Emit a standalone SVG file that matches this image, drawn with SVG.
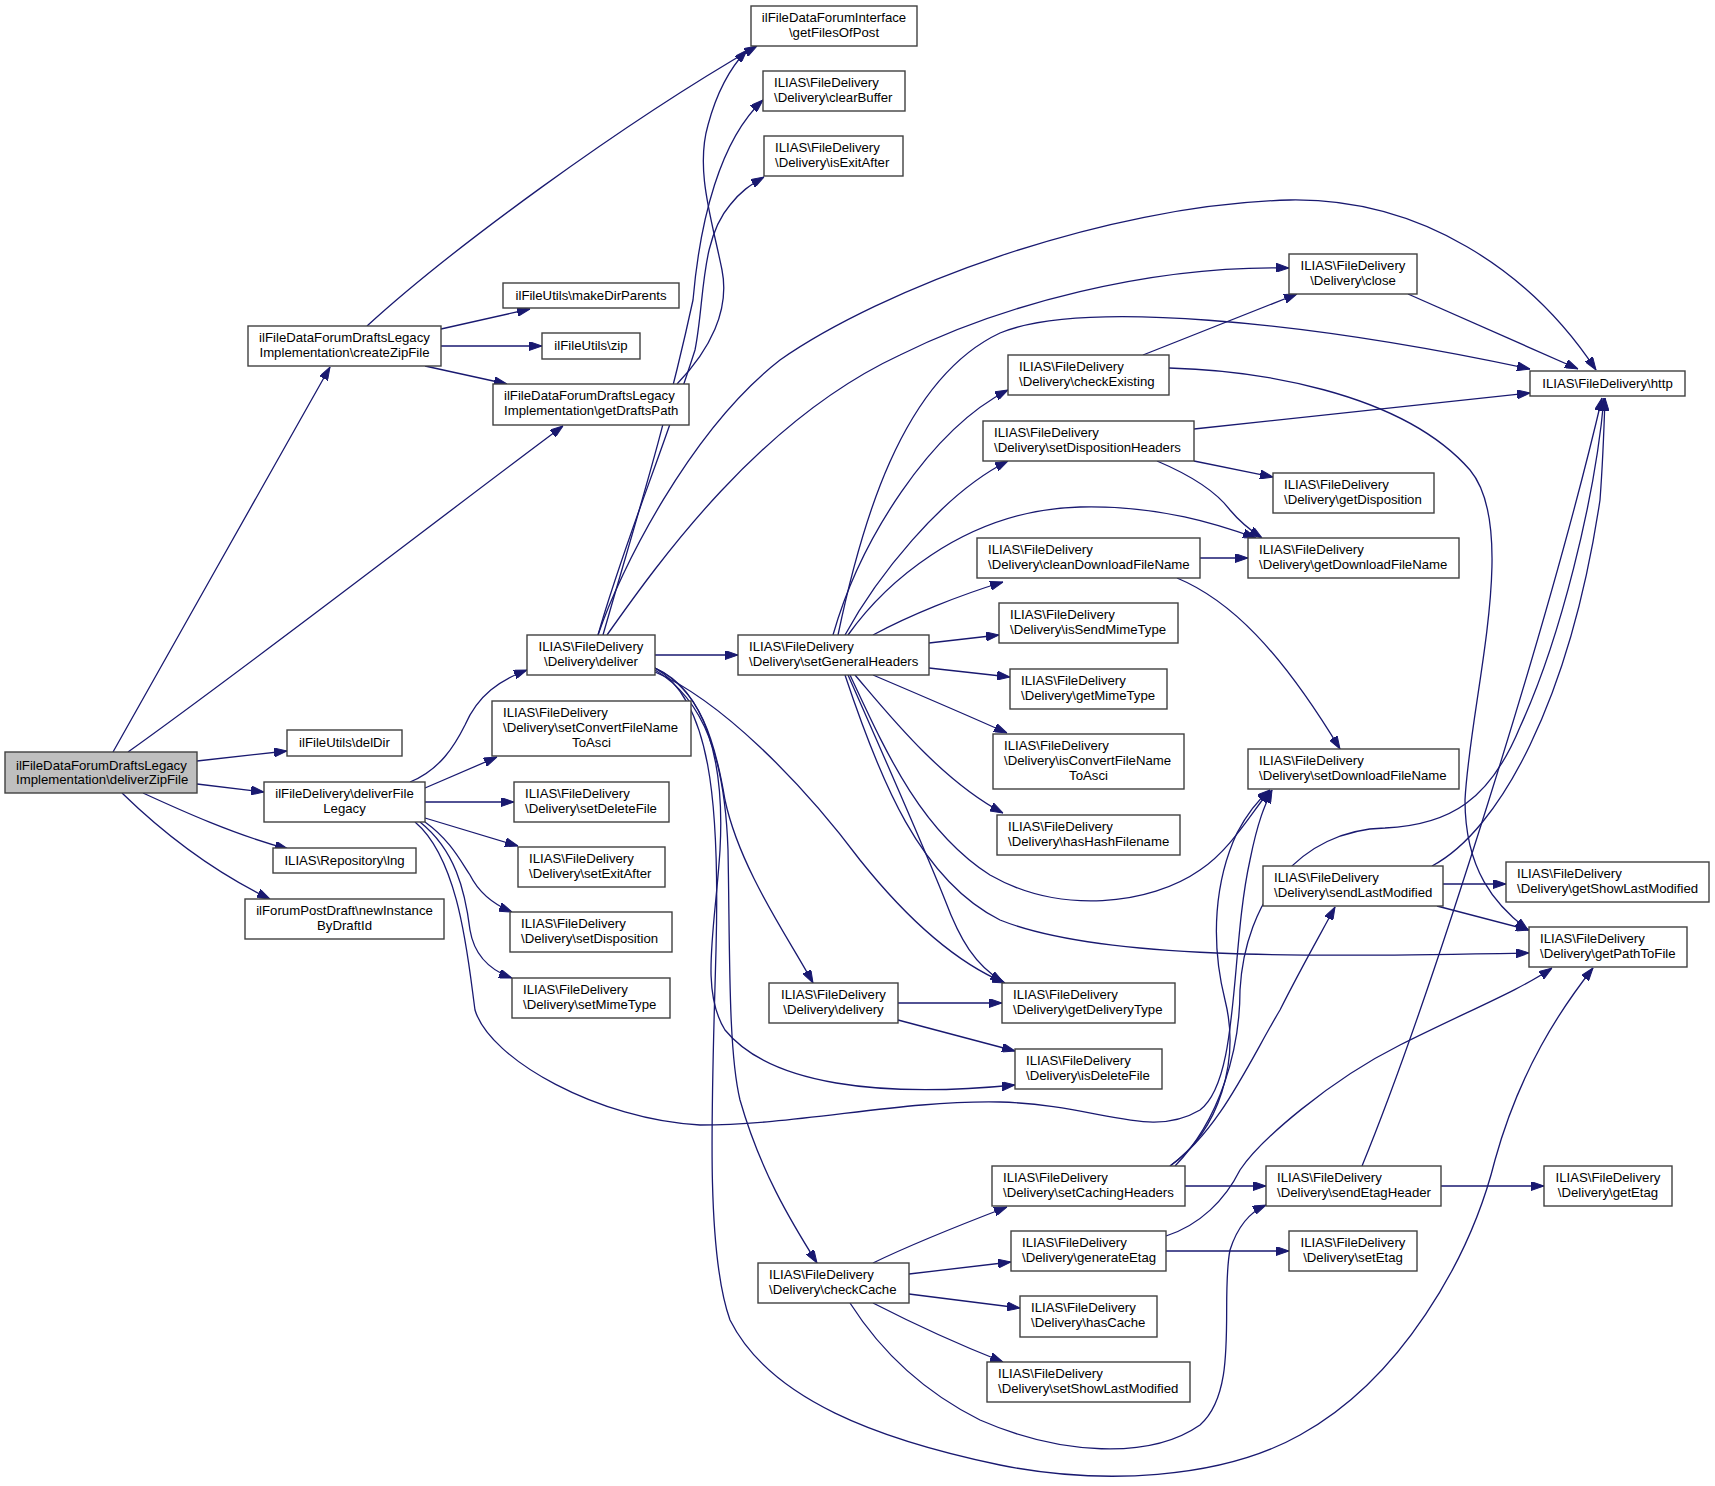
<svg xmlns="http://www.w3.org/2000/svg" width="1715" height="1486" viewBox="0 0 1715 1486">
<defs>
<marker id="arr" viewBox="0 0 13 9" refX="13" refY="4.5" markerWidth="13" markerHeight="9" markerUnits="userSpaceOnUse" orient="auto">
<path d="M0,0 L13,4.5 L0,9 z" fill="#191970" stroke="#191970" stroke-width="1"/>
</marker>
</defs>
<style>
.node rect{fill:#ffffff;stroke:#404040;stroke-width:1.4}
.node.root rect{fill:#bfbfbf}
.node text{font-family:"Liberation Sans",Arial,Helvetica,sans-serif;font-size:13.2px;fill:#000000}
.m{text-anchor:middle}
.s{text-anchor:start}
#edges path{fill:none;stroke:#191970;stroke-width:1.3;marker-end:url(#arr)}
</style>
<rect width="1715" height="1486" fill="#ffffff"/>
<g id="edges">
<path d="M113,752 C180,633 265,482 330,367"/>
<path d="M128,752 C250,665 450,510 563,426"/>
<path d="M197,761 L287,751"/>
<path d="M197,784 L264,792"/>
<path d="M143,793 C180,810 235,835 288,849"/>
<path d="M122,793 C160,830 210,870 270,899"/>
<path d="M367,326 C450,250 620,125 757,46"/>
<path d="M441,329 L530,309"/>
<path d="M441,346 L542,346"/>
<path d="M425,366 L507,384"/>
<path d="M677,384 C710,350 730,310 722,270 C712,220 695,170 708,125 C716,95 728,70 747,50"/>
<path d="M410,782 C440,770 455,745 465,725 C478,695 500,680 527,670"/>
<path d="M425,788 L497,757"/>
<path d="M425,802 L514,802"/>
<path d="M425,818 L518,846"/>
<path d="M425,822 C450,840 460,860 470,875 C480,895 495,905 512,912"/>
<path d="M420,822 C455,850 465,890 470,930 C475,960 495,972 512,978"/>
<path d="M415,822 C460,860 468,960 475,1010 C490,1060 600,1120 700,1125 C800,1125 900,1100 1000,1102 C1100,1105 1150,1140 1200,1110 C1240,1080 1230,950 1250,860 C1258,820 1265,805 1272,790"/>
<path d="M655,655 L738,655"/>
<path d="M603,635 C630,540 665,430 693,300 C700,220 720,140 763,100"/>
<path d="M598,635 C625,540 660,460 695,350 C705,300 700,240 730,205 C740,192 750,185 764,177"/>
<path d="M598,635 C620,570 690,430 780,360 C880,290 1100,205 1290,200 C1420,198 1530,270 1596,370"/>
<path d="M607,635 C660,560 760,420 900,355 C1000,305 1150,265 1289,268"/>
<path d="M655,672 C720,700 800,780 860,860 C900,910 950,960 1005,983"/>
<path d="M655,668 C700,690 715,740 725,800 C740,870 790,940 813,983"/>
<path d="M655,670 C705,700 725,760 728,850 C730,950 728,1050 740,1100 C760,1170 790,1220 817,1263"/>
<path d="M655,668 C705,690 725,760 720,850 C715,930 700,990 725,1030 C770,1085 880,1098 1015,1085"/>
<path d="M655,668 C710,700 720,800 716,950 C712,1100 705,1250 730,1320 C770,1400 880,1440 1000,1465 C1100,1485 1220,1480 1300,1435 C1400,1380 1470,1260 1495,1160 C1520,1070 1560,1010 1593,968"/>
<path d="M833,635 C860,540 930,430 1008,390"/>
<path d="M845,635 C875,580 940,495 1008,461"/>
<path d="M838,635 C860,530 900,380 1000,333 C1080,300 1300,320 1530,369"/>
<path d="M848,635 C880,590 960,510 1080,507 C1160,505 1220,525 1256,538"/>
<path d="M873,635 C910,615 960,595 1003,582"/>
<path d="M929,643 L999,635"/>
<path d="M929,668 L1010,677"/>
<path d="M873,675 C920,695 960,712 1007,733"/>
<path d="M855,675 C885,710 940,780 1003,813"/>
<path d="M850,675 C885,750 920,830 990,875 C1060,915 1150,905 1200,870 C1230,850 1250,815 1270,790"/>
<path d="M845,675 C880,780 920,880 1000,920 C1100,960 1300,957 1529,953"/>
<path d="M848,675 C890,770 925,850 945,900 C960,940 975,965 1003,982"/>
<path d="M898,1003 L1002,1003"/>
<path d="M898,1020 L1015,1051"/>
<path d="M873,1263 C910,1245 960,1225 1007,1207"/>
<path d="M909,1274 L1011,1262"/>
<path d="M909,1294 L1020,1308"/>
<path d="M873,1303 C910,1322 960,1345 1003,1362"/>
<path d="M850,1303 C880,1350 920,1390 980,1420 C1060,1455 1150,1460 1200,1425 C1240,1390 1220,1300 1230,1250 C1238,1225 1250,1212 1266,1205"/>
<path d="M1185,1186 L1266,1186"/>
<path d="M1170,1166 C1220,1130 1250,1060 1280,1010 C1300,970 1320,935 1335,907"/>
<path d="M1175,1166 C1220,1120 1240,1050 1240,990 C1245,900 1300,830 1385,828 C1450,825 1490,800 1520,727 C1560,640 1595,500 1604,398"/>
<path d="M1170,1166 C1220,1130 1240,1060 1225,1000 C1210,940 1215,880 1237,833 C1248,812 1258,800 1270,790"/>
<path d="M1166,1251 L1289,1251"/>
<path d="M1166,1236 C1200,1225 1225,1200 1240,1170 C1260,1140 1330,1080 1400,1045 C1470,1010 1520,990 1552,968"/>
<path d="M1441,1186 L1544,1186"/>
<path d="M1362,1166 C1430,1000 1550,620 1602,398"/>
<path d="M1443,884 L1506,884"/>
<path d="M1437,906 L1529,930"/>
<path d="M1432,866 C1500,830 1570,700 1600,500 C1603,460 1604,430 1605,398"/>
<path d="M1194,429 L1530,393"/>
<path d="M1194,461 L1273,477"/>
<path d="M1157,461 C1190,475 1215,490 1230,510 C1240,522 1250,530 1262,538"/>
<path d="M1408,294 L1578,369"/>
<path d="M1143,355 L1297,294"/>
<path d="M1169,368 C1250,370 1400,390 1470,470 C1520,530 1470,700 1465,800 C1465,870 1495,905 1528,930"/>
<path d="M1200,558 L1248,558"/>
<path d="M1177,578 C1230,600 1280,650 1340,749"/>
</g>
<g id="n_deliverZipFile" class="node root"><rect x="5" y="752" width="192" height="41"/><text class="s"><tspan x="16" y="770">ilFileDataForumDraftsLegacy</tspan><tspan x="16" y="784">Implementation\deliverZipFile</tspan></text></g>
<g id="n_createZipFile" class="node"><rect x="248" y="326" width="193" height="40"/><text class="m"><tspan x="344.5" y="342">ilFileDataForumDraftsLegacy</tspan><tspan x="344.5" y="356.5">Implementation\createZipFile</tspan></text></g>
<g id="n_getFilesOfPost" class="node"><rect x="751" y="6" width="166" height="40"/><text class="m"><tspan x="834" y="22">ilFileDataForumInterface</tspan><tspan x="834" y="36.5">\getFilesOfPost</tspan></text></g>
<g id="n_clearBuffer" class="node"><rect x="763" y="71" width="142" height="40"/><text class="s"><tspan x="774" y="87">ILIAS\FileDelivery</tspan><tspan x="774" y="101.5">\Delivery\clearBuffer</tspan></text></g>
<g id="n_isExitAfter" class="node"><rect x="764" y="136" width="139" height="40"/><text class="s"><tspan x="775" y="152">ILIAS\FileDelivery</tspan><tspan x="775" y="166.5">\Delivery\isExitAfter</tspan></text></g>
<g id="n_makeDirParents" class="node"><rect x="503" y="283" width="176" height="25"/><text class="m" x="591" y="300">ilFileUtils\makeDirParents</text></g>
<g id="n_zip" class="node"><rect x="542" y="333" width="98" height="26"/><text class="m" x="591" y="350">ilFileUtils\zip</text></g>
<g id="n_getDraftsPath" class="node"><rect x="493" y="384" width="196" height="41"/><text class="s"><tspan x="504" y="400">ilFileDataForumDraftsLegacy</tspan><tspan x="504" y="414.5">Implementation\getDraftsPath</tspan></text></g>
<g id="n_delDir" class="node"><rect x="287" y="730" width="115" height="26"/><text class="m" x="344.5" y="747">ilFileUtils\delDir</text></g>
<g id="n_deliverFileLegacy" class="node"><rect x="264" y="782" width="161" height="40"/><text class="m"><tspan x="344.5" y="798">ilFileDelivery\deliverFile</tspan><tspan x="344.5" y="812.5">Legacy</tspan></text></g>
<g id="n_lng" class="node"><rect x="273" y="848" width="143" height="25"/><text class="m" x="344.5" y="865">ILIAS\Repository\lng</text></g>
<g id="n_newInstanceByDraftId" class="node"><rect x="245" y="899" width="199" height="40"/><text class="m"><tspan x="344.5" y="915">ilForumPostDraft\newInstance</tspan><tspan x="344.5" y="929.5">ByDraftId</tspan></text></g>
<g id="n_deliver" class="node"><rect x="527" y="635" width="128" height="40"/><text class="m"><tspan x="591" y="651">ILIAS\FileDelivery</tspan><tspan x="591" y="665.5">\Delivery\deliver</tspan></text></g>
<g id="n_setConvertFileNameToAsci" class="node"><rect x="492" y="701" width="199" height="55"/><text class="s"><tspan x="503" y="717">ILIAS\FileDelivery</tspan><tspan x="503" y="732">\Delivery\setConvertFileName</tspan><tspan class="m" x="591.5" y="747">ToAsci</tspan></text></g>
<g id="n_setDeleteFile" class="node"><rect x="514" y="782" width="155" height="40"/><text class="s"><tspan x="525" y="798">ILIAS\FileDelivery</tspan><tspan x="525" y="812.5">\Delivery\setDeleteFile</tspan></text></g>
<g id="n_setExitAfter" class="node"><rect x="518" y="847" width="147" height="40"/><text class="s"><tspan x="529" y="863">ILIAS\FileDelivery</tspan><tspan x="529" y="877.5">\Delivery\setExitAfter</tspan></text></g>
<g id="n_setDisposition" class="node"><rect x="510" y="912" width="162" height="40"/><text class="s"><tspan x="521" y="928">ILIAS\FileDelivery</tspan><tspan x="521" y="942.5">\Delivery\setDisposition</tspan></text></g>
<g id="n_setMimeType" class="node"><rect x="512" y="978" width="158" height="40"/><text class="s"><tspan x="523" y="994">ILIAS\FileDelivery</tspan><tspan x="523" y="1008.5">\Delivery\setMimeType</tspan></text></g>
<g id="n_setGeneralHeaders" class="node"><rect x="738" y="635" width="191" height="40"/><text class="s"><tspan x="749" y="651">ILIAS\FileDelivery</tspan><tspan x="749" y="665.5">\Delivery\setGeneralHeaders</tspan></text></g>
<g id="n_delivery" class="node"><rect x="769" y="983" width="129" height="40"/><text class="m"><tspan x="833.5" y="999">ILIAS\FileDelivery</tspan><tspan x="833.5" y="1013.5">\Delivery\delivery</tspan></text></g>
<g id="n_checkCache" class="node"><rect x="758" y="1263" width="151" height="40"/><text class="s"><tspan x="769" y="1279">ILIAS\FileDelivery</tspan><tspan x="769" y="1293.5">\Delivery\checkCache</tspan></text></g>
<g id="n_checkExisting" class="node"><rect x="1008" y="355" width="161" height="40"/><text class="s"><tspan x="1019" y="371">ILIAS\FileDelivery</tspan><tspan x="1019" y="385.5">\Delivery\checkExisting</tspan></text></g>
<g id="n_setDispositionHeaders" class="node"><rect x="983" y="421" width="211" height="40"/><text class="s"><tspan x="994" y="437">ILIAS\FileDelivery</tspan><tspan x="994" y="451.5">\Delivery\setDispositionHeaders</tspan></text></g>
<g id="n_cleanDownloadFileName" class="node"><rect x="977" y="538" width="223" height="40"/><text class="s"><tspan x="988" y="554">ILIAS\FileDelivery</tspan><tspan x="988" y="568.5">\Delivery\cleanDownloadFileName</tspan></text></g>
<g id="n_isSendMimeType" class="node"><rect x="999" y="603" width="179" height="40"/><text class="s"><tspan x="1010" y="619">ILIAS\FileDelivery</tspan><tspan x="1010" y="633.5">\Delivery\isSendMimeType</tspan></text></g>
<g id="n_getMimeType" class="node"><rect x="1010" y="669" width="157" height="40"/><text class="s"><tspan x="1021" y="685">ILIAS\FileDelivery</tspan><tspan x="1021" y="699.5">\Delivery\getMimeType</tspan></text></g>
<g id="n_isConvertFileNameToAsci" class="node"><rect x="993" y="734" width="191" height="55"/><text class="s"><tspan x="1004" y="750">ILIAS\FileDelivery</tspan><tspan x="1004" y="765">\Delivery\isConvertFileName</tspan><tspan class="m" x="1088.5" y="780">ToAsci</tspan></text></g>
<g id="n_hasHashFilename" class="node"><rect x="997" y="815" width="183" height="40"/><text class="s"><tspan x="1008" y="831">ILIAS\FileDelivery</tspan><tspan x="1008" y="845.5">\Delivery\hasHashFilename</tspan></text></g>
<g id="n_getDeliveryType" class="node"><rect x="1002" y="983" width="173" height="40"/><text class="s"><tspan x="1013" y="999">ILIAS\FileDelivery</tspan><tspan x="1013" y="1013.5">\Delivery\getDeliveryType</tspan></text></g>
<g id="n_isDeleteFile" class="node"><rect x="1015" y="1049" width="147" height="40"/><text class="s"><tspan x="1026" y="1065">ILIAS\FileDelivery</tspan><tspan x="1026" y="1079.5">\Delivery\isDeleteFile</tspan></text></g>
<g id="n_setCachingHeaders" class="node"><rect x="992" y="1166" width="193" height="40"/><text class="s"><tspan x="1003" y="1182">ILIAS\FileDelivery</tspan><tspan x="1003" y="1196.5">\Delivery\setCachingHeaders</tspan></text></g>
<g id="n_generateEtag" class="node"><rect x="1011" y="1231" width="155" height="40"/><text class="s"><tspan x="1022" y="1247">ILIAS\FileDelivery</tspan><tspan x="1022" y="1261.5">\Delivery\generateEtag</tspan></text></g>
<g id="n_hasCache" class="node"><rect x="1020" y="1296" width="137" height="41"/><text class="s"><tspan x="1031" y="1312">ILIAS\FileDelivery</tspan><tspan x="1031" y="1326.5">\Delivery\hasCache</tspan></text></g>
<g id="n_setShowLastModified" class="node"><rect x="987" y="1362" width="203" height="40"/><text class="s"><tspan x="998" y="1378">ILIAS\FileDelivery</tspan><tspan x="998" y="1392.5">\Delivery\setShowLastModified</tspan></text></g>
<g id="n_close" class="node"><rect x="1289" y="254" width="128" height="40"/><text class="m"><tspan x="1353" y="270">ILIAS\FileDelivery</tspan><tspan x="1353" y="284.5">\Delivery\close</tspan></text></g>
<g id="n_http" class="node"><rect x="1530" y="371" width="155" height="25"/><text class="m" x="1607.5" y="388">ILIAS\FileDelivery\http</text></g>
<g id="n_getDisposition" class="node"><rect x="1273" y="473" width="161" height="40"/><text class="s"><tspan x="1284" y="489">ILIAS\FileDelivery</tspan><tspan x="1284" y="503.5">\Delivery\getDisposition</tspan></text></g>
<g id="n_getDownloadFileName" class="node"><rect x="1248" y="538" width="211" height="40"/><text class="s"><tspan x="1259" y="554">ILIAS\FileDelivery</tspan><tspan x="1259" y="568.5">\Delivery\getDownloadFileName</tspan></text></g>
<g id="n_setDownloadFileName" class="node"><rect x="1248" y="749" width="211" height="40"/><text class="s"><tspan x="1259" y="765">ILIAS\FileDelivery</tspan><tspan x="1259" y="779.5">\Delivery\setDownloadFileName</tspan></text></g>
<g id="n_sendLastModified" class="node"><rect x="1263" y="866" width="180" height="40"/><text class="s"><tspan x="1274" y="882">ILIAS\FileDelivery</tspan><tspan x="1274" y="896.5">\Delivery\sendLastModified</tspan></text></g>
<g id="n_getShowLastModified" class="node"><rect x="1506" y="862" width="203" height="40"/><text class="s"><tspan x="1517" y="878">ILIAS\FileDelivery</tspan><tspan x="1517" y="892.5">\Delivery\getShowLastModified</tspan></text></g>
<g id="n_getPathToFile" class="node"><rect x="1529" y="927" width="158" height="40"/><text class="s"><tspan x="1540" y="943">ILIAS\FileDelivery</tspan><tspan x="1540" y="957.5">\Delivery\getPathToFile</tspan></text></g>
<g id="n_sendEtagHeader" class="node"><rect x="1266" y="1166" width="175" height="40"/><text class="s"><tspan x="1277" y="1182">ILIAS\FileDelivery</tspan><tspan x="1277" y="1196.5">\Delivery\sendEtagHeader</tspan></text></g>
<g id="n_setEtag" class="node"><rect x="1289" y="1231" width="128" height="40"/><text class="m"><tspan x="1353" y="1247">ILIAS\FileDelivery</tspan><tspan x="1353" y="1261.5">\Delivery\setEtag</tspan></text></g>
<g id="n_getEtag" class="node"><rect x="1544" y="1166" width="128" height="40"/><text class="m"><tspan x="1608" y="1182">ILIAS\FileDelivery</tspan><tspan x="1608" y="1196.5">\Delivery\getEtag</tspan></text></g>
</svg>
